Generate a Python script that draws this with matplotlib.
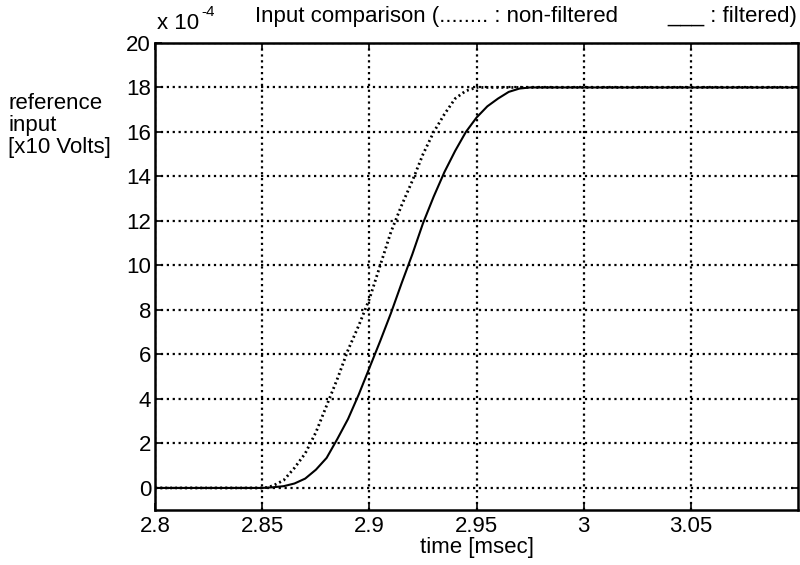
import numpy as np
import matplotlib
matplotlib.use('Agg')
import matplotlib.pyplot as plt

plt.rcParams['font.family'] = ['Liberation Sans', 'DejaVu Sans']

# Non-filtered reference input (dotted), values in units of 1e-4
t_raw = [2.80, 2.85, 2.852, 2.855, 2.86, 2.865, 2.87, 2.875, 2.88, 2.885, 2.89,
         2.895, 2.90, 2.905, 2.91, 2.915, 2.92, 2.925, 2.93, 2.935, 2.94,
         2.945, 2.95, 3.00, 3.05, 3.10]
y_raw = [0.0, 0.0, 0.02, 0.1, 0.35, 0.9, 1.55, 2.5, 3.7, 4.9, 6.2,
         7.3, 8.5, 10.0, 11.5, 12.7, 13.8, 15.0, 16.0, 16.8, 17.5,
         17.85, 18.0, 18.0, 18.0, 18.0]

# Filtered reference input (solid)
t_filt = [2.80, 2.85, 2.855, 2.86, 2.865, 2.87, 2.875, 2.88, 2.885, 2.89, 2.895,
          2.90, 2.905, 2.91, 2.915, 2.92, 2.925, 2.93, 2.935, 2.94, 2.945,
          2.95, 2.955, 2.96, 2.965, 2.97, 2.975, 3.00, 3.05, 3.10]
y_filt = [0.0, 0.0, 0.03, 0.08, 0.2, 0.42, 0.82, 1.35, 2.2, 3.1, 4.2,
          5.4, 6.6, 7.85, 9.2, 10.5, 11.9, 13.1, 14.2, 15.15, 16.0,
          16.65, 17.15, 17.5, 17.8, 17.95, 18.0, 18.0, 18.0, 18.0]

xticks = [2.8, 2.85, 2.9, 2.95, 3.0, 3.05]
xtick_labels = ['2.8', '2.85', '2.9', '2.95', '3', '3.05']
yticks = list(range(0, 21, 2))

fs = 16

fig = plt.figure(figsize=(8, 5.65), dpi=100)
ax = fig.add_axes([0.194, 0.097, 0.8035, 0.827])

ax.plot(t_raw, y_raw, color='black', lw=2.0, linestyle=(0, (0.7, 1.1)))
ax.plot(t_filt, y_filt, color='black', lw=1.5)

ax.set_xlim(2.8, 3.1)
ax.set_ylim(-1, 20)
ax.set_xticks(xticks)
ax.set_xticklabels(xtick_labels)
ax.set_yticks(yticks)
ax.tick_params(direction='in', top=True, right=True, labelsize=fs, length=5, width=1.2)
ax.tick_params(axis='y', pad=3)
ax.tick_params(axis='x', pad=4)
ax.grid(True, color='black', linestyle=':', lw=1.6)
for s in ax.spines.values():
    s.set_linewidth(1.8)

ax.set_xlabel('time [msec]', fontsize=fs, labelpad=0)
fig.text(0.01, 0.835, 'reference\ninput\n[x10 Volts]', fontsize=fs, ha='left', va='top',
         linespacing=1.05)

# exponent label above the y axis
fig.text(0.196, 0.948, 'x 10', fontsize=fs, ha='left', va='baseline')
fig.text(0.252, 0.972, '-4', fontsize=11, ha='left', va='baseline')

# title with the legend written in it
fig.text(0.772, 0.961, 'Input comparison (........ : non-filtered', fontsize=fs,
         ha='right', va='baseline')
fig.text(0.997, 0.961, '___ : filtered)', fontsize=fs, ha='right', va='baseline')

fig.savefig('out.png', dpi=100)
